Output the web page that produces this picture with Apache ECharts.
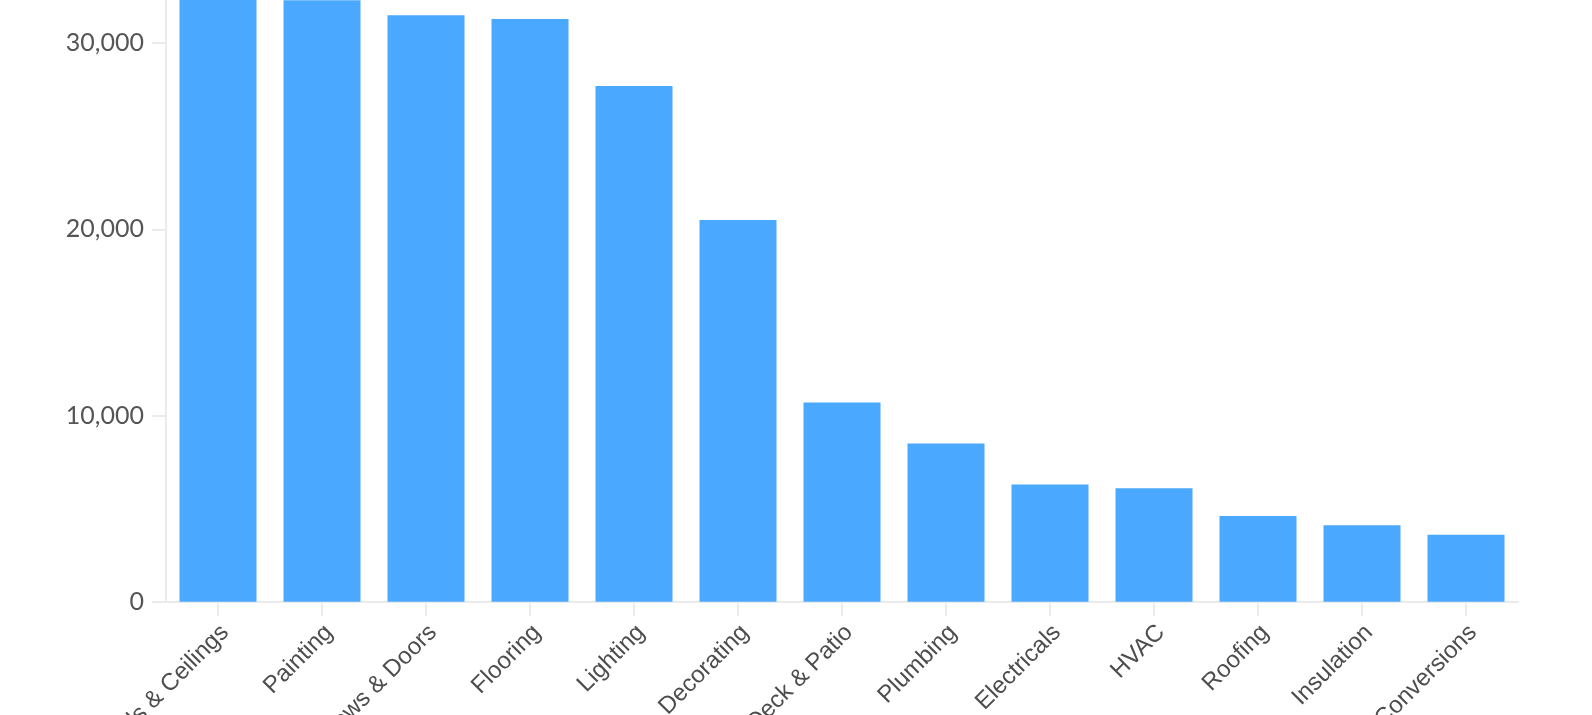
<!DOCTYPE html>
<html>
<head>
<meta charset="utf-8">
<script src="https://cdn.jsdelivr.net/npm/echarts@6/dist/echarts.min.js"></script>
<style>
html,body{margin:0;padding:0;background:#fff;}
#chart{width:1592px;height:715px;}
</style>
</head>
<body>
<div id="chart"></div>
<script>
const categories = ["Walls & Ceilings", "Painting", "Windows & Doors", "Flooring", "Lighting", "Decorating", "Deck & Patio", "Plumbing", "Electricals", "HVAC", "Roofing", "Insulation", "Loft Conversions"];
const values = [33000, 32300, 31500, 31300, 27700, 20500, 10700, 8500, 6300, 6100, 4600, 4100, 3600];
const yTicks = [0, 10000, 20000, 30000, 40000];

const chart = echarts.init(document.getElementById('chart'), null, {renderer: 'canvas'});
chart.setOption({
  animation: false,
  grid: {left: 166, right: 74, top: -143, bottom: 113.3, containLabel: false, outerBoundsMode: 'none'},
  xAxis: {
    type: 'category',
    data: categories,
    axisLine: {show: true, lineStyle: {color: '#ebebeb', width: 2}},
    axisTick: {show: true, alignWithLabel: true, length: 14, lineStyle: {color: '#ebebeb', width: 2}},
    axisLabel: {
      interval: 0, rotate: 45, margin: 20, hideOverlap: false,
      fontFamily: 'Liberation Sans', fontSize: 24, lineHeight: 20, color: '#4d4d4d',
      align: 'right', verticalAlign: 'top'
    },
    splitLine: {show: false}
  },
  yAxis: {
    type: 'value',
    min: yTicks[0], max: yTicks[yTicks.length - 1], interval: yTicks[1] - yTicks[0],
    axisLine: {show: true, lineStyle: {color: '#ebebeb', width: 2}},
    axisTick: {show: true, length: 14, lineStyle: {color: '#ebebeb', width: 2}},
    axisLabel: {
      margin: 22, fontFamily: 'Lato', fontSize: 25, color: '#555',
      formatter: v => v.toLocaleString('en-US')
    },
    splitLine: {show: false}
  },
  series: [{
    type: 'bar',
    data: values,
    barWidth: 77,
    itemStyle: {color: '#4aa8ff'}
  }]
});
</script>
</body>
</html>
